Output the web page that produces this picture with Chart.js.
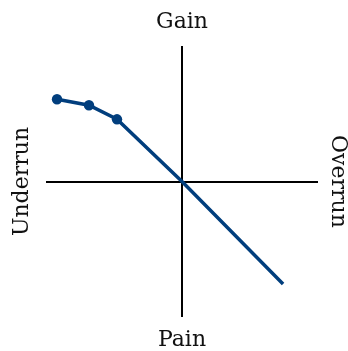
<!DOCTYPE html>
<html>
<head>
<meta charset="utf-8">
<script src="https://cdn.jsdelivr.net/npm/chart.js@4/dist/chart.umd.min.js"></script>
<style>
  html, body { margin: 0; padding: 0; background: #fff; }
  canvas { display: block; }
</style>
</head>
<body>
<canvas id="chart" width="348" height="351"></canvas>
<script>
// Schedule position (x) against outcome (y), both on a -1..1 scale
const xValues = [-0.919, -0.684, -0.478, 0, 0.743];
const yValues = [0.607, 0.563, 0.459, 0, -0.756];
const markerSizes = [5.2, 5.2, 5.2, 0, 0];

// Quadrant captions: top, bottom, left, right
const topLabel = 'Gain';
const bottomLabel = 'Pain';
const leftLabel = 'Underrun';
const rightLabel = 'Overrun';

const lineColor = '#013e7d';
const labelFont = '22px "DejaVu Serif", serif';

const points = xValues.map((x, i) => ({ x: x, y: yValues[i] }));

// Draws the four captions around the plot area
const quadrantLabels = {
    id: 'quadrantLabels',
    afterDraw(chart) {
        const { ctx, chartArea } = chart;
        const cx = (chartArea.left + chartArea.right) / 2;
        const cy = (chartArea.top + chartArea.bottom) / 2;
        ctx.save();
        ctx.fillStyle = '#111';
        ctx.font = labelFont;
        ctx.textAlign = 'center';
        ctx.textBaseline = 'middle';
        ctx.fillText(topLabel, cx, 22);
        ctx.fillText(bottomLabel, cx, 340);

        ctx.save();
        ctx.translate(22, cy);
        ctx.rotate(-Math.PI / 2);
        ctx.fillText(leftLabel, 0, 0);
        ctx.restore();

        ctx.save();
        ctx.translate(338, cy);
        ctx.rotate(Math.PI / 2);
        ctx.fillText(rightLabel, 0, 0);
        ctx.restore();
        ctx.restore();
    }
};

const zeroLine = (ctx) => ctx.tick && ctx.tick.value === 0 ? '#000' : 'rgba(0,0,0,0)';

new Chart(document.getElementById('chart'), {
    type: 'scatter',
    data: {
        datasets: [{
            data: points,
            showLine: true,
            borderColor: lineColor,
            backgroundColor: lineColor,
            borderWidth: 3.5,
            pointRadius: markerSizes,
            pointHoverRadius: markerSizes,
            pointBorderWidth: 0
        }]
    },
    options: {
        responsive: false,
        animation: false,
        layout: { padding: { left: 46, right: 30, top: 46, bottom: 34 } },
        plugins: {
            legend: { display: false },
            tooltip: { enabled: false }
        },
        scales: {
            x: {
                min: -1,
                max: 1,
                ticks: { display: false, stepSize: 1 },
                border: { display: false },
                grid: { color: zeroLine, lineWidth: 2, drawTicks: false }
            },
            y: {
                min: -1,
                max: 1,
                ticks: { display: false, stepSize: 1 },
                border: { display: false },
                grid: { color: zeroLine, lineWidth: 2, drawTicks: false }
            }
        }
    },
    plugins: [quadrantLabels]
});
</script>
</body>
</html>
